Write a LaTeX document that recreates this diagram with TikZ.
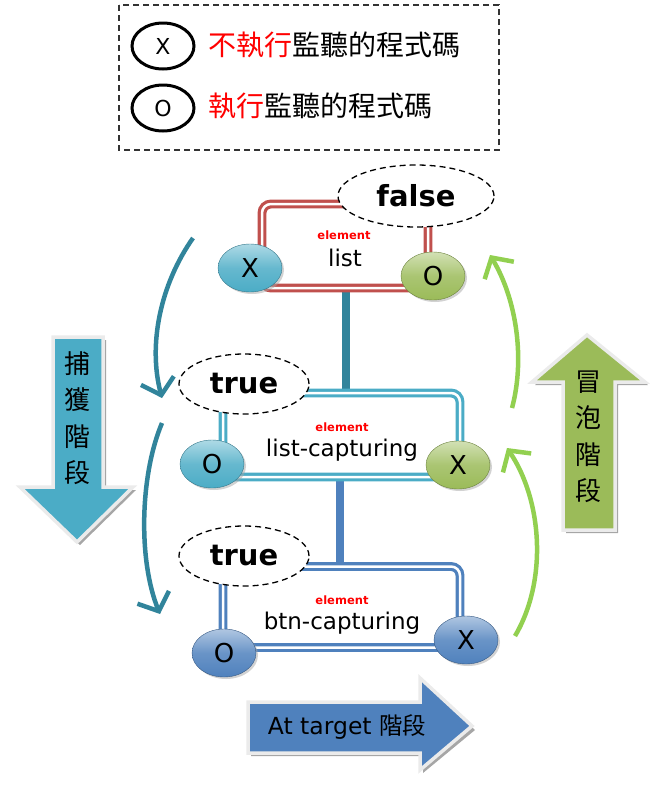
\documentclass[tikz,border=0pt]{standalone}
\usepackage{fontspec}
\setmainfont{DejaVu Sans}
\newfontfamily\cjk{Noto Sans CJK TC}
\usetikzlibrary{positioning,shapes.geometric,shadows,arrows.meta}
\definecolor{rot}{RGB}{192,80,77}
\definecolor{hellblau}{RGB}{75,172,198}
\definecolor{dunkelblau}{RGB}{49,132,155}
\definecolor{blau}{RGB}{79,129,189}
\definecolor{gruen}{RGB}{155,187,89}
\definecolor{hellgruen}{RGB}{146,208,80}
\definecolor{signal}{RGB}{255,0,0}
\tikzset{>=latex}

\begin{document}
\begin{tikzpicture}[x=1pt,y=-1pt]
        \tikzset{
        elembox/.style={rectangle,draw=#1,double=white,double distance=2.5pt,line width=3.2pt,
          rounded corners=9pt,fill=white,inner sep=0pt},
        knopf/.style={ellipse,minimum width=64,minimum height=48,inner sep=0pt,draw=#1!70!black,
          top color=#1!45!white,bottom color=#1,middle color=#1!85!white,
          drop shadow={shadow xshift=2pt,shadow yshift=-2pt,fill=black!35},
          font=\fontsize{26}{26}\selectfont},
        legende/.style={ellipse,draw,line width=3pt,minimum width=62,minimum height=46,inner sep=0pt,
          font=\fontsize{22}{22}\selectfont},
        zustand/.style={ellipse,draw,line width=1.3pt,dash pattern=on 6pt off 4pt,fill=white,inner sep=0pt,
          font=\fontsize{29}{29}\selectfont\bfseries},
        elem/.style={text=signal,font=\fontsize{11.5}{11.5}\selectfont\bfseries},
        elemname/.style={font=\fontsize{23}{23}\selectfont},
        bogen/.style={line width=4.5pt,-{Straight Barb[length=15pt,width=34pt,line width=4.5pt]}},
        block/.style={fill=#1,draw=black!8,line width=3.5pt,line join=miter},
        blockschatten/.style={fill=black!35},
        phase/.style={align=center,font=\cjk\fontsize{26}{36.5}\selectfont},
        }
        \useasboundingbox (0,0) rectangle (651,793);

        % Legend.
        \draw [line width=1.3pt,dash pattern=on 6pt off 4pt,black!80] (119,5) rectangle (499,150);
        \path (163,46)  node[legende] (lx) {X};
        \path (163,108) node[legende] (lo) {O};
        \path (205,45)  node[anchor=west,font=\cjk\fontsize{28}{28}\selectfont] (tx)
          {\textcolor{signal}{不執行}監聽的程式碼};
        \path (205,106) node[anchor=west,font=\cjk\fontsize{28}{28}\selectfont] (to)
          {\textcolor{signal}{執行}監聽的程式碼};

        % Connectors between elements.
        \coordinate (c1) at (346,288);
        \coordinate (c2) at (346,394);
        \coordinate (c3) at (340,478);
        \coordinate (c4) at (340,568);
        \draw [dunkelblau,line width=8pt] (c1) -- (c2);
        \draw [blau,line width=8pt] (c3) -- (c4);

        % Elements.
        \path (345,246)   node[elembox=rot,minimum width=166,minimum height=84]       (list)    {};
        \path (341.5,435) node[elembox=hellblau,minimum width=237,minimum height=84]  (listcap) {};
        \path (341.5,607) node[elembox=blau,minimum width=237,minimum height=81]      (btncap)  {};

        \path (344,235) node[elem]     (e1) {element};
        \path (345,258) node[elemname] (n1) {list};
        \path (342,427) node[elem]     (e2) {element};
        \path (342,450) node[elemname] (n2) {list-capturing};
        \path (342,600) node[elem]     (e3) {element};
        \path (342,623) node[elemname] (n3) {btn-capturing};

        \path (416,196) node[zustand,minimum width=156,minimum height=62] (z1) {false};
        \path (244,384) node[zustand,minimum width=130,minimum height=60] (z2) {true};
        \path (244,556) node[zustand,minimum width=130,minimum height=60] (z3) {true};

        \path (250,268) node[knopf=hellblau] (k1) {X};
        \path (433,276) node[knopf=gruen]    (k2) {O};
        \path (212,464) node[knopf=hellblau] (k3) {O};
        \path (458,465) node[knopf=gruen]    (k4) {X};
        \path (224,653) node[knopf=blau]     (k5) {O};
        \path (466,640) node[knopf=blau]     (k6) {X};

        % Curved arrows.
        \coordinate (ca) at (193,238);
        \coordinate (cb) at (162,398);
        \coordinate (cc) at (162,423);
        \coordinate (cd) at (160,614);
        \coordinate (ba) at (512,408);
        \coordinate (bb) at (490,255);
        \coordinate (bc) at (515,636);
        \coordinate (bd) at (507,448);
        \draw [bogen,dunkelblau] (ca) .. controls (160,285) and (148,345) .. (cb);
        \draw [bogen,dunkelblau] (cc) .. controls (140,475) and (138,560) .. (cd);
        \draw [bogen,hellgruen]  (ba) .. controls (525,360) and (517,300) .. (bb);
        \draw [bogen,hellgruen]  (bc) .. controls (548,580) and (542,500) .. (bd);

        % Phase arrows.
        \fill [blockschatten] (56,340) -- (106,340) -- (106,490) -- (136,490) -- (80,545) -- (23,490) -- (56,490) -- cycle;
        \draw [block=hellblau] (53,337) -- (103,337) -- (103,487) -- (133,487) -- (77,542) -- (20,487) -- (53,487) -- cycle;
        \path (77,418) node[phase] (p1) {捕\\獲\\階\\段};

        \fill [blockschatten] (590,338) -- (648,385) -- (618,385) -- (618,533) -- (566,533) -- (566,385) -- (535,385) -- cycle;
        \draw [block=gruen] (587,335) -- (645,382) -- (615,382) -- (615,530) -- (563,530) -- (563,382) -- (532,382) -- cycle;
        \path (588,437) node[phase] (p2) {冒\\泡\\階\\段};

        \fill [blockschatten] (251,705) -- (423,705) -- (423,681) -- (475,730) -- (423,773) -- (423,756) -- (251,756) -- cycle;
        \draw [block=blau] (248,702) -- (420,702) -- (420,678) -- (472,726) -- (420,770) -- (420,753) -- (248,753) -- cycle;
        \path (347,727) node[font=\fontsize{23.5}{23.5}\selectfont] (p3) {At target {\cjk 階段}};
      \end{tikzpicture}
\end{document}
